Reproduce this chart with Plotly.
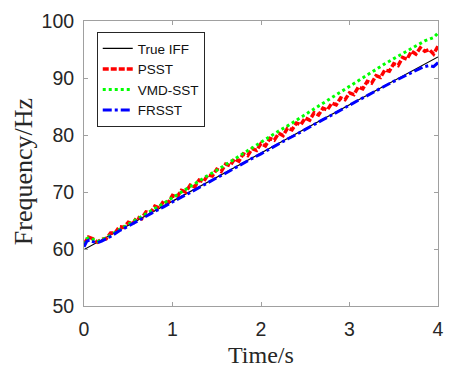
import plotly.graph_objects as go

# ---- data ----
t_true = [0, 0.5, 1.0, 1.5, 2.0, 2.5, 3.0, 3.5, 4.0]
f_true = [59.9, 64.2, 68.4, 72.6, 76.9, 81.1, 85.3, 89.5, 93.7]

t_psst = [0.00, 0.05, 0.10, 0.15, 0.20, 0.25, 0.30, 0.35, 0.40, 0.45,
          0.50, 0.55, 0.60, 0.65, 0.70, 0.75, 0.80, 0.85, 0.90, 0.95,
          1.00, 1.05, 1.10, 1.15, 1.20, 1.25, 1.30, 1.35, 1.40, 1.45,
          1.50, 1.55, 1.60, 1.65, 1.70, 1.75, 1.80, 1.85, 1.90, 1.95,
          2.00, 2.05, 2.10, 2.15, 2.20, 2.25, 2.30, 2.35, 2.40, 2.45,
          2.50, 2.55, 2.60, 2.65, 2.70, 2.75, 2.80, 2.85, 2.90, 2.95,
          3.00, 3.05, 3.10, 3.15, 3.20, 3.25, 3.30, 3.35, 3.40, 3.45,
          3.50, 3.55, 3.60, 3.65, 3.70, 3.75, 3.80, 3.85, 3.90, 3.95, 4.00]
f_psst = [60.9, 62.1, 61.8, 61.2, 61.7, 61.8, 62.8, 62.8, 63.9, 63.8,
          64.7, 64.4, 65.6, 65.3, 66.5, 66.3, 67.5, 67.2, 68.4, 68.1,
          69.4, 69.1, 70.3, 70.0, 71.2, 70.9, 72.1, 71.8, 73.0, 72.8,
          74.0, 73.6, 74.9, 74.6, 75.8, 75.4, 76.7, 76.4, 77.6, 77.3,
          78.5, 78.1, 79.4, 79.1, 80.3, 79.9, 81.2, 80.9, 82.1, 81.8,
          83.0, 82.6, 83.9, 83.5, 84.7, 84.4, 85.6, 85.3, 86.5, 86.2,
          87.4, 87.1, 88.4, 88.1, 89.4, 89.1, 90.4, 90.1, 91.4, 91.2,
          92.5, 92.2, 93.6, 93.3, 94.7, 94.2, 95.3, 94.7, 95.0, 94.2, 95.6]

t_vmd = [0, 0.03, 0.06, 0.1, 0.15, 0.2, 0.3, 0.4, 0.5, 0.6, 0.7, 0.8, 0.9,
         1.0, 1.1, 1.2, 1.3, 1.4, 1.5, 1.6, 1.7, 1.8, 1.9, 2.0, 2.1, 2.2,
         2.3, 2.4, 2.5, 2.6, 2.7, 2.8, 2.9, 3.0, 3.1, 3.2, 3.3, 3.4, 3.5,
         3.6, 3.7, 3.8, 3.85, 3.9, 3.95, 4.0]
f_vmd = [60.8, 61.8, 62.0, 61.7, 61.3, 61.6, 62.4, 63.4, 64.3, 65.2, 66.1, 67.1, 68.0,
         69.0, 70.0, 70.9, 71.9, 72.9, 73.8, 74.8, 75.8, 76.8, 77.7, 78.7, 79.7, 80.7,
         81.6, 82.6, 83.6, 84.6, 85.6, 86.6, 87.5, 88.5, 89.5, 90.6, 91.6, 92.5, 93.4,
         94.3, 95.2, 96.1, 96.5, 96.8, 97.1, 97.9]

t_fr = [0, 0.03, 0.06, 0.1, 0.15, 0.2, 0.3, 0.4, 0.5, 0.6, 0.7, 0.8, 0.9,
        1.0, 1.1, 1.2, 1.3, 1.4, 1.5, 1.6, 1.7, 1.8, 1.9, 2.0, 2.1, 2.2,
        2.3, 2.4, 2.5, 2.6, 2.7, 2.8, 2.9, 3.0, 3.1, 3.2, 3.3, 3.4, 3.5,
        3.6, 3.7, 3.8, 3.85, 3.9, 3.95, 4.0]
f_fr = [60.4, 61.3, 61.6, 61.3, 61.1, 61.4, 62.2, 63.2, 64.0, 64.9, 65.7, 66.6, 67.4,
        68.3, 69.1, 69.9, 70.8, 71.6, 72.5, 73.3, 74.2, 75.0, 75.9, 76.7, 77.6, 78.4,
        79.3, 80.1, 81.0, 81.8, 82.7, 83.5, 84.4, 85.2, 86.1, 86.9, 87.8, 88.6, 89.4,
        90.2, 91.0, 91.7, 92.0, 92.2, 92.0, 92.7]

x_ticks = [0, 1, 2, 3, 4]
y_ticks = [50, 60, 70, 80, 90, 100]

fig = go.Figure()
fig.add_trace(go.Scatter(x=t_true, y=f_true, mode="lines", name="True IFF",
                         line=dict(color="black", width=1.2)))
fig.add_trace(go.Scatter(x=t_psst, y=f_psst, mode="lines", name="PSST",
                         line=dict(color="#ff0000", width=3.5, dash="6px,2px")))
fig.add_trace(go.Scatter(x=t_vmd, y=f_vmd, mode="lines", name="VMD-SST",
                         line=dict(color="#00ff00", width=3, dash="dot")))
fig.add_trace(go.Scatter(x=t_fr, y=f_fr, mode="lines", name="FRSST",
                         line=dict(color="#0000ff", width=3, dash="dashdot")))

axis_common = dict(showgrid=False, zeroline=False, showline=True, mirror="ticks",
                   linecolor="#a0a0a0", linewidth=1, ticks="inside", ticklen=4,
                   tickcolor="#a0a0a0",
                   tickfont=dict(family="Liberation Sans, Arial", size=19.5, color="#262626"))

fig.update_layout(
    width=452, height=369,
    margin=dict(l=84, r=8, t=21, b=63),
    paper_bgcolor="white", plot_bgcolor="white",
    xaxis=dict(range=[0, 4], tickvals=x_ticks, ticklabelstandoff=6, **axis_common),
    yaxis=dict(range=[50, 100], tickvals=y_ticks, ticklabelstandoff=5, **axis_common),
    legend=dict(x=0.036, y=0.961, xanchor="left", yanchor="top",
                bgcolor="white", bordercolor="#262626", borderwidth=1,
                font=dict(family="Liberation Sans, Arial", size=13.5, color="#111111"),
                tracegroupgap=0, itemwidth=30),
    showlegend=True,
    annotations=[
        dict(text="Time/s", xref="paper", yref="paper", x=0.5, y=-0.172,
             xanchor="center", yanchor="middle", showarrow=False,
             font=dict(family="Liberation Serif, Times New Roman", size=24, color="#262626")),
        dict(text="Frequency/Hz", xref="paper", yref="paper", x=-0.172, y=0.47,
             xanchor="center", yanchor="middle", showarrow=False, textangle=-90,
             font=dict(family="Liberation Serif, Times New Roman", size=26, color="#262626")),
    ],
)

fig.write_html("out.html")
